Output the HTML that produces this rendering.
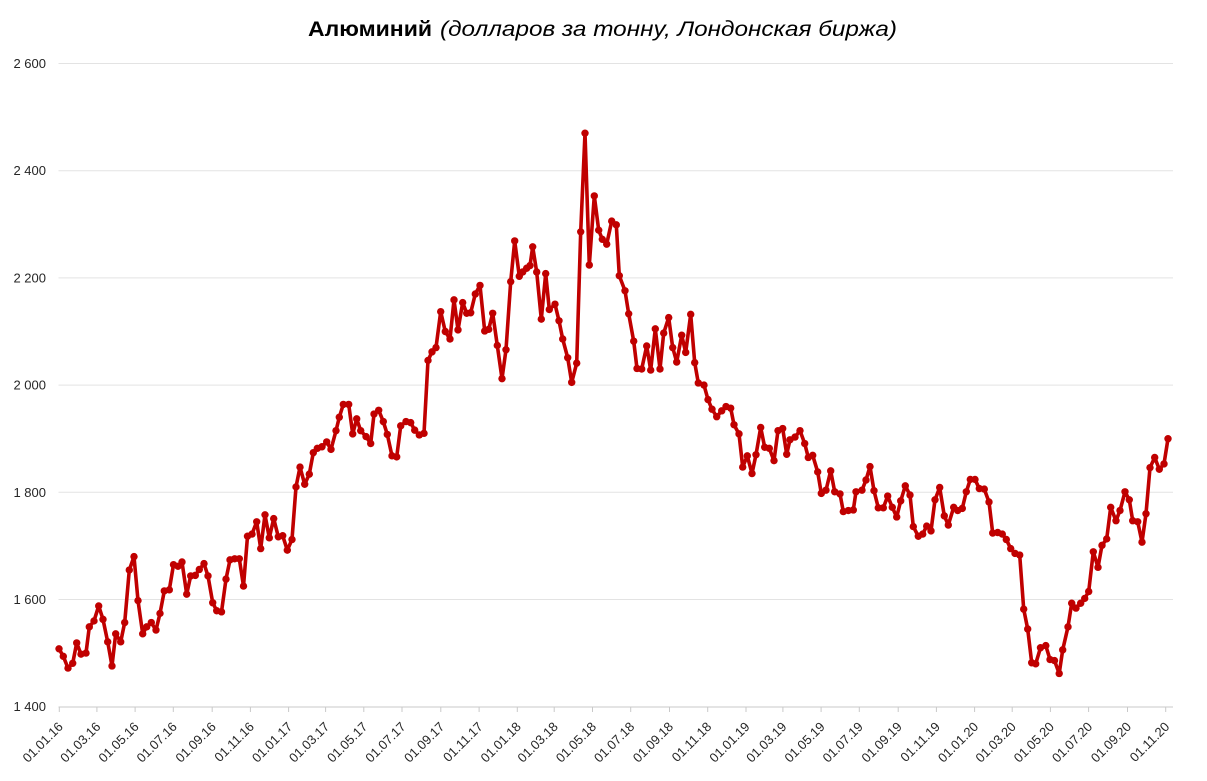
<!DOCTYPE html>
<html><head><meta charset="utf-8"><style>html,body{margin:0;padding:0;background:#fff}svg{display:block}</style></head>
<body>
<svg xmlns="http://www.w3.org/2000/svg" width="1207" height="781" viewBox="0 0 1207 781">
<rect width="1207" height="781" fill="#fff"/>
<defs>
<marker id="m" markerUnits="userSpaceOnUse" markerWidth="20" markerHeight="30" viewBox="-10 -15 20 30" refX="0" refY="0" overflow="visible"><ellipse cx="0" cy="0" rx="3.7" ry="6.9" fill="#C00000"/></marker>
</defs>
<text x="308" y="36" font-family="'Liberation Sans','Noto Sans CJK SC',sans-serif" font-size="21.5" fill="#000"><tspan font-weight="bold" x="308" textLength="124" lengthAdjust="spacingAndGlyphs">Алюминий</tspan><tspan font-style="italic" x="440" textLength="457" lengthAdjust="spacingAndGlyphs">(долларов за тонну, Лондонская биржа)</tspan></text>
<g stroke="#e3e3e3" stroke-width="1">
<line x1="58.5" y1="63.5" x2="1173" y2="63.5"/>
<line x1="58.5" y1="170.7" x2="1173" y2="170.7"/>
<line x1="58.5" y1="277.9" x2="1173" y2="277.9"/>
<line x1="58.5" y1="385.1" x2="1173" y2="385.1"/>
<line x1="58.5" y1="492.3" x2="1173" y2="492.3"/>
<line x1="58.5" y1="599.5" x2="1173" y2="599.5"/>
</g>
<line x1="58.5" y1="707" x2="1173" y2="707" stroke="#c9c9c9" stroke-width="1"/>
<g font-family="'Liberation Sans',sans-serif" font-size="13" fill="#262626" text-anchor="end">
<text x="46" y="68">2 600</text>
<text x="46" y="175.2">2 400</text>
<text x="46" y="282.4">2 200</text>
<text x="46" y="389.6">2 000</text>
<text x="46" y="496.8">1 800</text>
<text x="46" y="604">1 600</text>
<text x="46" y="711.2">1 400</text>
</g>
<g stroke="#c9c9c9" stroke-width="1">
<line x1="59.3" y1="707" x2="59.3" y2="712"/><line x1="96.9" y1="707" x2="96.9" y2="712"/><line x1="135.1" y1="707" x2="135.1" y2="712"/><line x1="173.3" y1="707" x2="173.3" y2="712"/><line x1="212.2" y1="707" x2="212.2" y2="712"/><line x1="250.4" y1="707" x2="250.4" y2="712"/><line x1="288.6" y1="707" x2="288.6" y2="712"/><line x1="325.6" y1="707" x2="325.6" y2="712"/><line x1="363.8" y1="707" x2="363.8" y2="712"/><line x1="402" y1="707" x2="402" y2="712"/><line x1="440.8" y1="707" x2="440.8" y2="712"/><line x1="479.1" y1="707" x2="479.1" y2="712"/><line x1="517.3" y1="707" x2="517.3" y2="712"/><line x1="554.2" y1="707" x2="554.2" y2="712"/><line x1="592.5" y1="707" x2="592.5" y2="712"/><line x1="630.7" y1="707" x2="630.7" y2="712"/><line x1="669.5" y1="707" x2="669.5" y2="712"/><line x1="707.7" y1="707" x2="707.7" y2="712"/><line x1="746" y1="707" x2="746" y2="712"/><line x1="782.9" y1="707" x2="782.9" y2="712"/><line x1="821.1" y1="707" x2="821.1" y2="712"/><line x1="859.3" y1="707" x2="859.3" y2="712"/><line x1="898.2" y1="707" x2="898.2" y2="712"/><line x1="936.4" y1="707" x2="936.4" y2="712"/><line x1="974.6" y1="707" x2="974.6" y2="712"/><line x1="1012.2" y1="707" x2="1012.2" y2="712"/><line x1="1050.4" y1="707" x2="1050.4" y2="712"/><line x1="1088.6" y1="707" x2="1088.6" y2="712"/><line x1="1127.5" y1="707" x2="1127.5" y2="712"/><line x1="1165.7" y1="707" x2="1165.7" y2="712"/>
</g>
<g font-family="'Liberation Sans',sans-serif" font-size="13" fill="#262626" text-anchor="end">
<text transform="translate(63.8,727.5) rotate(-45)">01.01.16</text>
<text transform="translate(101.4,727.5) rotate(-45)">01.03.16</text>
<text transform="translate(139.6,727.5) rotate(-45)">01.05.16</text>
<text transform="translate(177.8,727.5) rotate(-45)">01.07.16</text>
<text transform="translate(216.7,727.5) rotate(-45)">01.09.16</text>
<text transform="translate(254.9,727.5) rotate(-45)">01.11.16</text>
<text transform="translate(293.1,727.5) rotate(-45)">01.01.17</text>
<text transform="translate(330.1,727.5) rotate(-45)">01.03.17</text>
<text transform="translate(368.3,727.5) rotate(-45)">01.05.17</text>
<text transform="translate(406.5,727.5) rotate(-45)">01.07.17</text>
<text transform="translate(445.3,727.5) rotate(-45)">01.09.17</text>
<text transform="translate(483.6,727.5) rotate(-45)">01.11.17</text>
<text transform="translate(521.8,727.5) rotate(-45)">01.01.18</text>
<text transform="translate(558.7,727.5) rotate(-45)">01.03.18</text>
<text transform="translate(597,727.5) rotate(-45)">01.05.18</text>
<text transform="translate(635.2,727.5) rotate(-45)">01.07.18</text>
<text transform="translate(674,727.5) rotate(-45)">01.09.18</text>
<text transform="translate(712.2,727.5) rotate(-45)">01.11.18</text>
<text transform="translate(750.5,727.5) rotate(-45)">01.01.19</text>
<text transform="translate(787.4,727.5) rotate(-45)">01.03.19</text>
<text transform="translate(825.6,727.5) rotate(-45)">01.05.19</text>
<text transform="translate(863.8,727.5) rotate(-45)">01.07.19</text>
<text transform="translate(902.7,727.5) rotate(-45)">01.09.19</text>
<text transform="translate(940.9,727.5) rotate(-45)">01.11.19</text>
<text transform="translate(979.1,727.5) rotate(-45)">01.01.20</text>
<text transform="translate(1016.7,727.5) rotate(-45)">01.03.20</text>
<text transform="translate(1054.9,727.5) rotate(-45)">01.05.20</text>
<text transform="translate(1093.1,727.5) rotate(-45)">01.07.20</text>
<text transform="translate(1132,727.5) rotate(-45)">01.09.20</text>
<text transform="translate(1170.2,727.5) rotate(-45)">01.11.20</text>
</g>
<g transform="matrix(1 0 0 -0.536 0 1457.1)">
<polyline fill="none" stroke="#C00000" stroke-width="3.6" stroke-linejoin="round" vector-effect="non-scaling-stroke" points="59,1508 63.3,1494 68,1472 72.7,1481 76.7,1519 81,1498 86,1500 89.3,1549 94,1560 98.7,1588 103,1563 107.7,1521 112,1476 115.7,1536 120.7,1521 124.7,1557 129.3,1655 134,1680 138,1598 142.7,1536 146.7,1549 151.3,1557 156,1543 160,1574 164.3,1616 169.3,1618 173.5,1665 178,1662 182,1670 186.7,1610 190.7,1644 195.3,1645 199.3,1656 204,1667 208,1644 212.7,1594 216.7,1579 221.5,1577 226,1638 230,1674 234.7,1676 239.3,1676 243.5,1625 247.5,1718 252,1722 256.7,1745 260.7,1695 265,1758 269.3,1715 273.7,1751 278.3,1717 282.7,1719 287.3,1692 292,1712 296,1810 300,1847 304.7,1815 309.3,1834 313.3,1874 317.3,1882 322,1885 326.7,1894 331,1880 336,1915 339.3,1940 343.3,1964 348.7,1964 352.7,1909 356.7,1937 360.7,1915 366,1904 370.7,1891 374,1946 378.7,1953 383.3,1932 387.3,1908 392,1868 396.7,1866 400.7,1924 406,1932 410.7,1930 414.7,1916 419.3,1907 424,1910 428,2046 432,2062 436,2070 440.7,2137 445.3,2100 450,2086 454,2159 458,2103 462.7,2154 466.7,2134 470.7,2135 475.3,2170 480,2186 484.7,2101 488.7,2104 492.7,2134 497.3,2074 502,2012 506,2066 510.7,2193 514.7,2269 519.3,2203 522.7,2211 526.7,2218 530,2223 532.7,2258 536.7,2211 541.3,2123 545.7,2208 549.3,2141 555,2151 559,2120 562.7,2086 567.7,2051 571.7,2005 576.7,2041 580.7,2286 585,2470 589.3,2224 594.3,2353 598.7,2289 602.3,2272 606.7,2263 611.7,2306 616.3,2299 619.3,2204 625,2176 628.7,2133 633.7,2082 637,2031 641.7,2030 646.7,2073 650.7,2028 655.3,2105 660,2030 663.7,2097 668.7,2126 672.7,2070 676.7,2043 681.7,2093 685.7,2061 690.7,2132 694.7,2042 698.3,2004 704,2000 708,1973 712,1955 716.7,1941 721.7,1952 726,1960 730.7,1957 734,1926 739,1909 742.7,1847 747.3,1868 752,1835 756,1870 760.7,1921 764.7,1884 769.3,1882 774,1859 778,1915 782.7,1919 786.7,1871 790,1898 795,1903 800,1915 804.7,1891 808.3,1865 812.7,1869 817.7,1838 821.3,1798 826,1804 830.7,1840 834.7,1801 840,1797 843.3,1764 848.3,1766 853.3,1767 856,1801 862,1804 866,1823 870,1848 874,1803 878.3,1771 883.3,1771 887.7,1793 892.3,1772 896.7,1754 900.7,1784 905.3,1812 910,1795 913.3,1736 918.3,1718 922.7,1722 926.7,1737 931,1728 935,1786 939.7,1809 944.3,1756 948.3,1739 953.7,1772 957.7,1766 962.3,1770 966.3,1801 970.3,1824 975,1824 979.3,1807 984.3,1806 989,1782 992.7,1724 997.7,1725 1002.3,1722 1006.3,1712 1010.7,1695 1015,1686 1019.7,1683 1023.7,1582 1027.7,1545 1031.7,1482 1035.7,1480 1040.5,1510 1045.8,1514 1050,1488 1054.5,1486 1059.2,1462 1062.7,1506 1068,1549 1071.7,1593 1076,1584 1080.7,1593 1084.7,1602 1088.7,1615 1093.3,1689 1098,1660 1102,1701 1106.7,1713 1110.7,1772 1116,1747 1120,1766 1125,1801 1129.3,1786 1132.7,1747 1137.7,1745 1142,1707 1146,1760 1150,1846 1154.7,1865 1159.3,1843 1164,1853 1168,1900"/>
<polyline fill="none" stroke="none" marker-start="url(#m)" marker-mid="url(#m)" marker-end="url(#m)" points="59,1508 63.3,1494 68,1472 72.7,1481 76.7,1519 81,1498 86,1500 89.3,1549 94,1560 98.7,1588 103,1563 107.7,1521 112,1476 115.7,1536 120.7,1521 124.7,1557 129.3,1655 134,1680 138,1598 142.7,1536 146.7,1549 151.3,1557 156,1543 160,1574 164.3,1616 169.3,1618 173.5,1665 178,1662 182,1670 186.7,1610 190.7,1644 195.3,1645 199.3,1656 204,1667 208,1644 212.7,1594 216.7,1579 221.5,1577 226,1638 230,1674 234.7,1676 239.3,1676 243.5,1625 247.5,1718 252,1722 256.7,1745 260.7,1695 265,1758 269.3,1715 273.7,1751 278.3,1717 282.7,1719 287.3,1692 292,1712 296,1810 300,1847 304.7,1815 309.3,1834 313.3,1874 317.3,1882 322,1885 326.7,1894 331,1880 336,1915 339.3,1940 343.3,1964 348.7,1964 352.7,1909 356.7,1937 360.7,1915 366,1904 370.7,1891 374,1946 378.7,1953 383.3,1932 387.3,1908 392,1868 396.7,1866 400.7,1924 406,1932 410.7,1930 414.7,1916 419.3,1907 424,1910 428,2046 432,2062 436,2070 440.7,2137 445.3,2100 450,2086 454,2159 458,2103 462.7,2154 466.7,2134 470.7,2135 475.3,2170 480,2186 484.7,2101 488.7,2104 492.7,2134 497.3,2074 502,2012 506,2066 510.7,2193 514.7,2269 519.3,2203 522.7,2211 526.7,2218 530,2223 532.7,2258 536.7,2211 541.3,2123 545.7,2208 549.3,2141 555,2151 559,2120 562.7,2086 567.7,2051 571.7,2005 576.7,2041 580.7,2286 585,2470 589.3,2224 594.3,2353 598.7,2289 602.3,2272 606.7,2263 611.7,2306 616.3,2299 619.3,2204 625,2176 628.7,2133 633.7,2082 637,2031 641.7,2030 646.7,2073 650.7,2028 655.3,2105 660,2030 663.7,2097 668.7,2126 672.7,2070 676.7,2043 681.7,2093 685.7,2061 690.7,2132 694.7,2042 698.3,2004 704,2000 708,1973 712,1955 716.7,1941 721.7,1952 726,1960 730.7,1957 734,1926 739,1909 742.7,1847 747.3,1868 752,1835 756,1870 760.7,1921 764.7,1884 769.3,1882 774,1859 778,1915 782.7,1919 786.7,1871 790,1898 795,1903 800,1915 804.7,1891 808.3,1865 812.7,1869 817.7,1838 821.3,1798 826,1804 830.7,1840 834.7,1801 840,1797 843.3,1764 848.3,1766 853.3,1767 856,1801 862,1804 866,1823 870,1848 874,1803 878.3,1771 883.3,1771 887.7,1793 892.3,1772 896.7,1754 900.7,1784 905.3,1812 910,1795 913.3,1736 918.3,1718 922.7,1722 926.7,1737 931,1728 935,1786 939.7,1809 944.3,1756 948.3,1739 953.7,1772 957.7,1766 962.3,1770 966.3,1801 970.3,1824 975,1824 979.3,1807 984.3,1806 989,1782 992.7,1724 997.7,1725 1002.3,1722 1006.3,1712 1010.7,1695 1015,1686 1019.7,1683 1023.7,1582 1027.7,1545 1031.7,1482 1035.7,1480 1040.5,1510 1045.8,1514 1050,1488 1054.5,1486 1059.2,1462 1062.7,1506 1068,1549 1071.7,1593 1076,1584 1080.7,1593 1084.7,1602 1088.7,1615 1093.3,1689 1098,1660 1102,1701 1106.7,1713 1110.7,1772 1116,1747 1120,1766 1125,1801 1129.3,1786 1132.7,1747 1137.7,1745 1142,1707 1146,1760 1150,1846 1154.7,1865 1159.3,1843 1164,1853 1168,1900"/>
</g>
</svg>
</body></html>
